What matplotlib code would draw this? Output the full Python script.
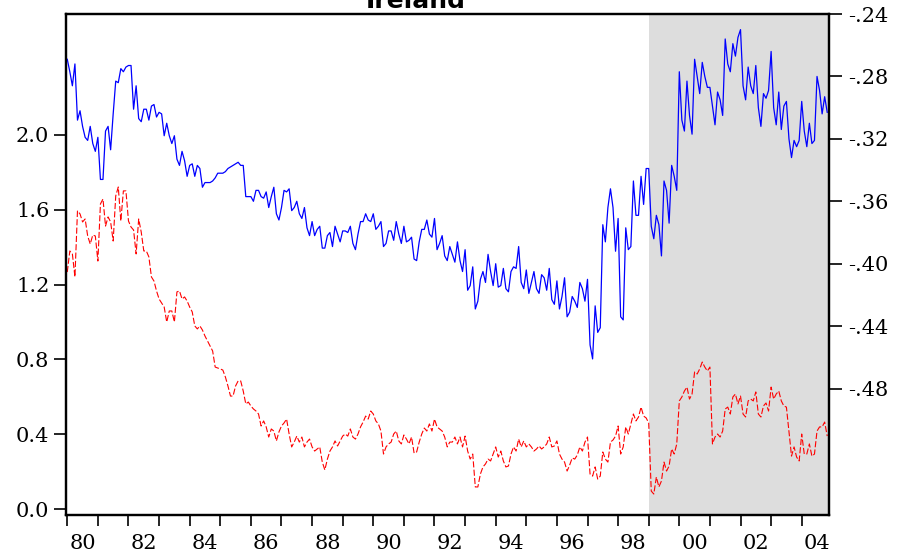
import numpy as np
import matplotlib.pyplot as plt
from matplotlib.ticker import FixedLocator, FixedFormatter, NullFormatter

# monthly observations starting 1980M01
start_year = 1980
shade_start = 1999.0

# blue series, right axis
blue = [
    -0.269, -0.277, -0.286, -0.272, -0.308, -0.302, -0.312, -0.319, -0.321, -0.312, -0.323, -0.328,  # 1980
    -0.319, -0.346, -0.346, -0.315, -0.312, -0.327, -0.304, -0.283, -0.284, -0.275, -0.277, -0.274,  # 1981
    -0.273, -0.273, -0.301, -0.286, -0.307, -0.309, -0.301, -0.301, -0.308, -0.299, -0.298, -0.306,  # 1982
    -0.303, -0.304, -0.318, -0.310, -0.318, -0.323, -0.318, -0.333, -0.337, -0.328, -0.334, -0.344,  # 1983
    -0.337, -0.336, -0.344, -0.337, -0.339, -0.351, -0.348, -0.348, -0.348, -0.347, -0.345, -0.342,  # 1984
    -0.342, -0.342, -0.341, -0.339, -0.338, -0.337, -0.336, -0.335, -0.337, -0.337, -0.357, -0.357,  # 1985
    -0.357, -0.360, -0.353, -0.353, -0.357, -0.358, -0.354, -0.364, -0.357, -0.351, -0.368, -0.372,  # 1986
    -0.364, -0.353, -0.354, -0.352, -0.366, -0.364, -0.360, -0.368, -0.371, -0.364, -0.377, -0.382,  # 1987
    -0.373, -0.382, -0.378, -0.376, -0.390, -0.390, -0.382, -0.380, -0.389, -0.376, -0.381, -0.386,  # 1988
    -0.379, -0.379, -0.380, -0.376, -0.387, -0.391, -0.381, -0.373, -0.373, -0.368, -0.372, -0.373,  # 1989
    -0.368, -0.378, -0.376, -0.373, -0.389, -0.387, -0.379, -0.379, -0.385, -0.373, -0.381, -0.387,  # 1990
    -0.376, -0.386, -0.385, -0.383, -0.397, -0.398, -0.386, -0.378, -0.378, -0.372, -0.381, -0.383,  # 1991
    -0.371, -0.391, -0.387, -0.382, -0.395, -0.398, -0.389, -0.394, -0.399, -0.386, -0.398, -0.405,  # 1992
    -0.391, -0.417, -0.414, -0.402, -0.429, -0.424, -0.410, -0.405, -0.412, -0.394, -0.405, -0.414,  # 1993
    -0.400, -0.415, -0.414, -0.403, -0.416, -0.418, -0.405, -0.402, -0.403, -0.389, -0.412, -0.416,  # 1994
    -0.404, -0.419, -0.412, -0.405, -0.416, -0.419, -0.407, -0.409, -0.417, -0.403, -0.423, -0.426,  # 1995
    -0.411, -0.429, -0.421, -0.409, -0.434, -0.431, -0.421, -0.424, -0.428, -0.412, -0.416, -0.424,  # 1996
    -0.410, -0.452, -0.461, -0.427, -0.444, -0.441, -0.375, -0.386, -0.364, -0.352, -0.364, -0.392,  # 1997
    -0.371, -0.434, -0.436, -0.377, -0.391, -0.389, -0.347, -0.369, -0.369, -0.344, -0.362, -0.339,  # 1998
    -0.339, -0.376, -0.384, -0.369, -0.375, -0.395, -0.347, -0.353, -0.374, -0.337, -0.344, -0.353,  # 1999
    -0.277, -0.308, -0.315, -0.283, -0.305, -0.317, -0.269, -0.280, -0.291, -0.271, -0.280, -0.287,  # 2000
    -0.287, -0.299, -0.311, -0.290, -0.295, -0.305, -0.256, -0.272, -0.277, -0.259, -0.267, -0.255,  # 2001
    -0.250, -0.286, -0.295, -0.274, -0.286, -0.291, -0.273, -0.300, -0.312, -0.291, -0.294, -0.289,  # 2002
    -0.264, -0.300, -0.311, -0.290, -0.314, -0.299, -0.296, -0.320, -0.332, -0.321, -0.325, -0.321,  # 2003
    -0.296, -0.315, -0.325, -0.310, -0.323, -0.321, -0.280, -0.289, -0.304, -0.293, -0.303,          # 2004
]

# red dashed series, left axis
red = [
    1.267, 1.380, 1.364, 1.241, 1.594, 1.578, 1.535, 1.551, 1.460, 1.417, 1.465, 1.460,  # 1980
    1.326, 1.631, 1.658, 1.513, 1.562, 1.535, 1.433, 1.674, 1.722, 1.540, 1.701, 1.701,  # 1981
    1.540, 1.508, 1.492, 1.364, 1.551, 1.481, 1.380, 1.380, 1.348, 1.241, 1.219, 1.166,  # 1982
    1.123, 1.102, 1.080, 1.000, 1.059, 1.059, 1.000, 1.161, 1.166, 1.123, 1.134, 1.112,  # 1983
    1.080, 1.054, 0.979, 0.963, 0.979, 0.957, 0.925, 0.898, 0.872, 0.845, 0.759, 0.754,  # 1984
    0.749, 0.743, 0.706, 0.658, 0.604, 0.604, 0.658, 0.685, 0.685, 0.631, 0.562, 0.572,  # 1985
    0.551, 0.535, 0.524, 0.508, 0.444, 0.471, 0.439, 0.385, 0.428, 0.417, 0.364, 0.412,  # 1986
    0.444, 0.460, 0.481, 0.401, 0.332, 0.358, 0.390, 0.358, 0.385, 0.332, 0.358, 0.374,  # 1987
    0.332, 0.310, 0.321, 0.332, 0.251, 0.209, 0.267, 0.310, 0.332, 0.364, 0.337, 0.364,  # 1988
    0.390, 0.401, 0.390, 0.428, 0.385, 0.374, 0.401, 0.439, 0.465, 0.497, 0.481, 0.524,  # 1989
    0.508, 0.471, 0.455, 0.417, 0.294, 0.332, 0.348, 0.358, 0.401, 0.417, 0.364, 0.348,  # 1990
    0.396, 0.374, 0.348, 0.385, 0.299, 0.305, 0.358, 0.401, 0.433, 0.417, 0.455, 0.417,  # 1991
    0.481, 0.439, 0.428, 0.417, 0.385, 0.332, 0.358, 0.358, 0.385, 0.348, 0.385, 0.332,  # 1992
    0.390, 0.310, 0.267, 0.294, 0.118, 0.118, 0.187, 0.225, 0.241, 0.267, 0.257, 0.294,  # 1993
    0.332, 0.278, 0.310, 0.257, 0.225, 0.230, 0.294, 0.332, 0.310, 0.374, 0.332, 0.364,  # 1994
    0.332, 0.348, 0.332, 0.310, 0.321, 0.337, 0.321, 0.332, 0.348, 0.385, 0.332, 0.337,  # 1995
    0.364, 0.294, 0.267, 0.251, 0.203, 0.235, 0.273, 0.267, 0.289, 0.332, 0.310, 0.358,  # 1996
    0.385, 0.187, 0.176, 0.225, 0.160, 0.176, 0.305, 0.267, 0.251, 0.358, 0.369, 0.390,  # 1997
    0.444, 0.294, 0.332, 0.439, 0.401, 0.455, 0.508, 0.471, 0.492, 0.545, 0.497, 0.487,  # 1998
    0.460, 0.096, 0.080, 0.171, 0.118, 0.150, 0.251, 0.203, 0.230, 0.321, 0.294, 0.348,  # 1999
    0.578, 0.599, 0.631, 0.652, 0.588, 0.615, 0.733, 0.722, 0.749, 0.786, 0.759, 0.738,  # 2000
    0.759, 0.348, 0.385, 0.401, 0.385, 0.417, 0.535, 0.545, 0.508, 0.599, 0.615, 0.562,  # 2001
    0.604, 0.508, 0.492, 0.578, 0.588, 0.578, 0.626, 0.508, 0.492, 0.551, 0.567, 0.524,  # 2002
    0.652, 0.588, 0.615, 0.631, 0.578, 0.551, 0.545, 0.412, 0.283, 0.332, 0.278, 0.257,  # 2003
    0.401, 0.294, 0.294, 0.348, 0.283, 0.294, 0.417, 0.439, 0.439, 0.465, 0.390,         # 2004
]

left_ticks = [0.0, 0.4, 0.8, 1.2, 1.6, 2.0]
right_ticks = [-0.48, -0.44, -0.40, -0.36, -0.32, -0.28, -0.24]
right_labels = ["-.48", "-.44", "-.40", "-.36", "-.32", "-.28", "-.24"]
years = list(range(1980, 2005))
label_years = [y for y in years if y % 2 == 0]

t = start_year + np.arange(len(blue)) / 12.0

fig = plt.figure(figsize=(9.01, 5.56), dpi=100)
ax = fig.add_axes([66 / 901, 41 / 556, 763 / 901, 501 / 556])
ax2 = ax.twinx()

x_end = start_year + 298.7 / 12
ax.axvspan(shade_start, x_end, color="#dddddd", lw=0, zorder=0)

ax.plot(t, red, color="red", lw=0.8, dashes=(5.5, 2))
ax2.plot(t, blue, color="blue", lw=0.9)

ax.set_xlim(start_year - 0.5 / 12, x_end)
ax.set_ylim(-0.032, 2.647)
ax2.set_ylim(-0.561, -0.24)

serif = "DejaVu Serif"
fs = 15

ax.set_yticks(left_ticks)
ax.set_yticklabels([f"{v:.1f}" for v in left_ticks], family=serif, size=fs)
ax2.set_yticks(right_ticks)
ax2.set_yticklabels(right_labels, family=serif, size=fs)

ax.xaxis.set_major_locator(FixedLocator(years))
ax.xaxis.set_major_formatter(NullFormatter())
ax.xaxis.set_minor_locator(FixedLocator([y + 0.5 for y in label_years]))
ax.xaxis.set_minor_formatter(FixedFormatter([f"{y % 100:02d}" for y in label_years]))
for lab in ax.get_xticklabels(minor=True):
    lab.set_family(serif)
    lab.set_size(fs)

ax.tick_params(axis="x", which="major", direction="out", length=8, width=1.2)
ax.tick_params(axis="x", which="minor", length=0, pad=14, labelsize=fs)
ax.tick_params(axis="y", direction="out", length=9, width=1.2, pad=3)
ax2.tick_params(axis="y", direction="out", length=9, width=1.2, pad=5)

for a in (ax, ax2):
    for s in a.spines.values():
        s.set_linewidth(1.6)
        s.set_color("black")

fig.text(416 / 901, 1 - 8 / 556, "Ireland", ha="center", va="baseline",
         fontweight="bold", size=18, family="DejaVu Sans")

fig.savefig("out.png", dpi=100)
